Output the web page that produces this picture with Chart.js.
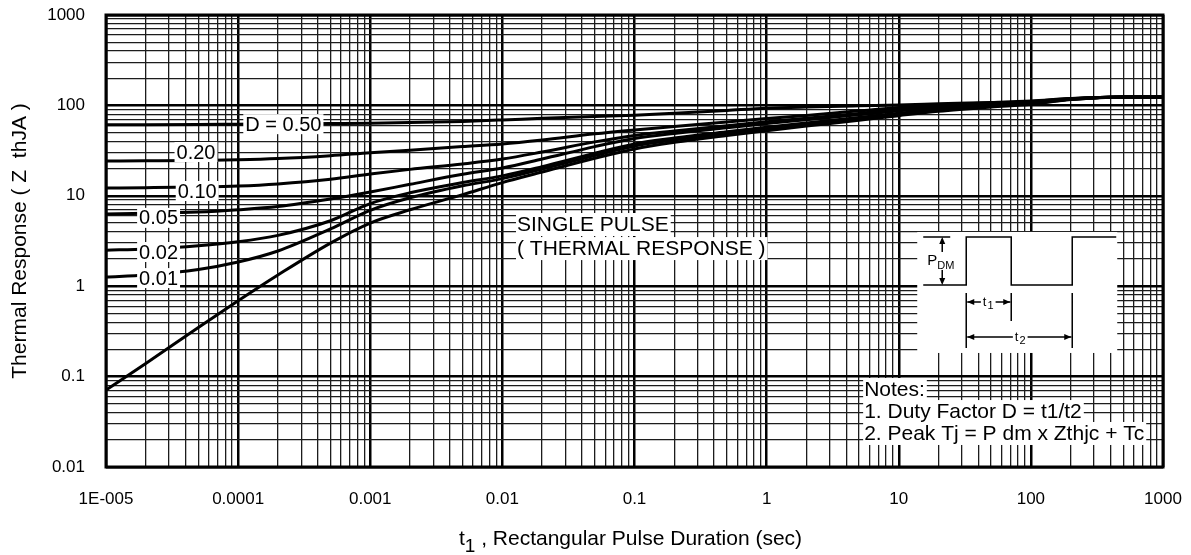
<!DOCTYPE html>
<html>
<head>
<meta charset="utf-8">
<script src="https://cdn.jsdelivr.net/npm/chart.js@4.4.1/dist/chart.umd.min.js"></script>
<style>
  html, body { margin: 0; padding: 0; background: #fff; }
  #wrap { width: 1191px; height: 555px; }
</style>
</head>
<body>
<div id="wrap"><canvas id="thermalChart"></canvas></div>
<script>
// Pulse duration t1 (sec)
const pulseTimes = [1e-5, 2e-5, 5e-5, 1e-4, 2e-4, 5e-4, 1e-3, 2e-3, 5e-3, 0.01, 0.02, 0.05, 0.1, 0.2, 0.5, 1, 2, 5, 10, 20, 50, 100, 200, 500, 1000];

// Z thJA per duty cycle
const zD050 = [61, 61.2, 61.6, 62, 62.4, 63, 63.5, 64.5, 66.5, 69, 72, 75.5, 78, 82, 88, 93, 96, 99, 101, 104, 108, 112, 119, 124, 124];
const zD020 = [24.3, 24.4, 24.6, 25, 25.8, 27.8, 30, 32, 35, 37.5, 41.5, 48.5, 53.5, 58.5, 65.5, 71.5, 77.5, 87, 95, 101, 107, 110.5, 119, 124, 124];
const zD010 = [12.2, 12.3, 12.5, 12.8, 13.5, 15.2, 17.4, 19.6, 22.5, 25.5, 30.5, 39.5, 46.5, 52, 59.5, 66, 72, 81.5, 90, 97, 104, 109, 118.5, 124, 124];
const zD005 = [6.3, 6.4, 6.6, 7.0, 7.6, 9.2, 11.0, 13.4, 17.3, 20.3, 25.5, 35, 43, 49, 56.5, 63, 69.5, 79, 87, 94, 102.5, 108, 118, 124, 124];
const zD002 = [2.5, 2.58, 2.8, 3.1, 3.65, 5.3, 8.2, 10.8, 14.0, 16.6, 21, 29.5, 37.5, 43.5, 51, 57.5, 64, 73.5, 82, 90, 100, 106, 117, 124, 124];
const zD001 = [1.26, 1.33, 1.53, 1.85, 2.45, 4.3, 6.9, 9.5, 12.9, 15.5, 19.8, 27.8, 35.5, 41.5, 49, 55.5, 62, 71.5, 80, 88.5, 98.5, 105, 116.5, 124, 124];
const zSingle = [0.071, 0.14, 0.35, 0.69, 1.33, 3.0, 5.0, 7.0, 10.3, 14.0, 18.3, 26, 33, 39, 46.5, 52.5, 59, 68.5, 77, 86, 96, 103, 116, 124, 124];

// Tick labels
const xTickLabels = ['1E-005', '0.0001', '0.001', '0.01', '0.1', '1', '10', '100', '1000'];
const yTickLabels = ['0.01', '0.1', '1', '10', '100', '1000'];

const FONT = '"Liberation Sans", Arial, Helvetica, sans-serif';

// curve labels, anchored on data coords (t, Z)
const curveLabels = [
    { text: 'D = 0.50', t: 2.2e-4, z: 62 },
    { text: '0.20', t: 4.8e-5, z: 30.5 },
    { text: '0.10', t: 4.9e-5, z: 11.3 },
    { text: '0.05', t: 2.5e-5, z: 5.7 },
    { text: '0.02', t: 2.5e-5, z: 2.39 },
    { text: '0.01', t: 2.5e-5, z: 1.23 }
];

const isDecade = v => Math.abs(Math.log10(v) - Math.round(Math.log10(v))) < 1e-9;

// grid positions: 1..9 x 10^n for every decade
function decadeTicks(minExp, maxExp) {
    const ticks = [];
    for (let e = minExp; e < maxExp; e++) {
        for (let m = 1; m < 10; m++) {
            ticks.push({ value: m * Math.pow(10, e) });
        }
    }
    ticks.push({ value: Math.pow(10, maxExp) });
    return ticks;
}

function makeSeries(values) {
    return pulseTimes.map((t, i) => ({ x: t, y: values[i] }));
}

function lineSet(label, values) {
    return {
        label: label,
        data: makeSeries(values),
        borderColor: '#000',
        borderWidth: 3,
        pointRadius: 0,
        cubicInterpolationMode: 'monotone',
        fill: false
    };
}

function arrowHead(ctx, x, y, dir) {
    const L = 7, W = 3;
    ctx.beginPath();
    ctx.moveTo(x, y);
    if (dir === 'up') { ctx.lineTo(x - W, y + L); ctx.lineTo(x + W, y + L); }
    if (dir === 'down') { ctx.lineTo(x - W, y - L); ctx.lineTo(x + W, y - L); }
    if (dir === 'left') { ctx.lineTo(x + L, y - W); ctx.lineTo(x + L, y + W); }
    if (dir === 'right') { ctx.lineTo(x - L, y - W); ctx.lineTo(x - L, y + W); }
    ctx.closePath();
    ctx.fill();
}

function boxedText(ctx, text, x, y) {
    // left aligned, alphabetic baseline, white box behind
    const w = ctx.measureText(text).width;
    ctx.fillStyle = '#fff';
    ctx.fillRect(x - 1, y - 18, w + 3, 23);
    ctx.fillStyle = '#000';
    ctx.fillText(text, x, y);
}

// inset pulse sketch
function drawInset(ctx, ox, oy) {
    ctx.save();
    ctx.fillStyle = '#fff';
    ctx.fillRect(ox, oy, 200, 121);
    ctx.strokeStyle = '#000';
    ctx.fillStyle = '#000';
    ctx.lineWidth = 1.5;
    const base = oy + 53, top = oy + 5;
    ctx.beginPath();
    ctx.moveTo(ox + 6, base);
    ctx.lineTo(ox + 49, base);
    ctx.lineTo(ox + 49, top);
    ctx.lineTo(ox + 94, top);
    ctx.lineTo(ox + 94, base);
    ctx.lineTo(ox + 155, base);
    ctx.lineTo(ox + 155, top);
    ctx.lineTo(ox + 199, top);
    ctx.moveTo(ox + 6, top);
    ctx.lineTo(ox + 33, top);
    // P_DM arrow
    ctx.moveTo(ox + 25, top + 2);
    ctx.lineTo(ox + 25, base - 2);
    // extension lines
    ctx.moveTo(ox + 49, oy + 61); ctx.lineTo(ox + 49, oy + 116);
    ctx.moveTo(ox + 94, oy + 61); ctx.lineTo(ox + 94, oy + 89);
    ctx.moveTo(ox + 155, oy + 61); ctx.lineTo(ox + 155, oy + 116);
    // dimension lines
    ctx.moveTo(ox + 50, oy + 70); ctx.lineTo(ox + 93, oy + 70);
    ctx.moveTo(ox + 50, oy + 105); ctx.lineTo(ox + 154, oy + 105);
    ctx.stroke();
    arrowHead(ctx, ox + 25, top, 'up');
    arrowHead(ctx, ox + 25, base, 'down');
    arrowHead(ctx, ox + 50, oy + 70, 'left');
    arrowHead(ctx, ox + 93, oy + 70, 'right');
    arrowHead(ctx, ox + 50, oy + 105, 'left');
    arrowHead(ctx, ox + 154, oy + 105, 'right');

    // P DM text
    ctx.fillStyle = '#fff';
    ctx.fillRect(ox + 9, oy + 20, 27, 18);
    ctx.fillStyle = '#000';
    ctx.textAlign = 'left';
    ctx.textBaseline = 'alphabetic';
    ctx.font = '15px ' + FONT;
    ctx.fillText('P', ox + 10, oy + 33);
    ctx.font = '11px ' + FONT;
    ctx.fillText('DM', ox + 20, oy + 37);

    // t1, t2
    const sub = (main, idx, cx, cy) => {
        ctx.font = '13px ' + FONT;
        const w1 = ctx.measureText(main).width;
        ctx.font = '11px ' + FONT;
        const w2 = ctx.measureText(idx).width;
        const x0 = cx - (w1 + w2 + 1) / 2;
        ctx.fillStyle = '#fff';
        ctx.fillRect(x0 - 2, cy - 7, w1 + w2 + 5, 14);
        ctx.fillStyle = '#000';
        ctx.font = '13px ' + FONT;
        ctx.fillText(main, x0, cy + 4);
        ctx.font = '11px ' + FONT;
        ctx.fillText(idx, x0 + w1 + 1, cy + 7);
    };
    sub('t', '1', ox + 71, oy + 70);
    sub('t', '2', ox + 103, oy + 105);
    ctx.restore();
}

const annotationPlugin = {
    id: 'thermalAnnotations',
    afterDatasetsDraw(chart) {
        const { ctx, chartArea: area, scales } = chart;
        const xs = scales.x, ys = scales.y;
        ctx.save();

        // curve labels
        ctx.font = '20px ' + FONT;
        ctx.textAlign = 'center';
        ctx.textBaseline = 'middle';
        curveLabels.forEach(l => {
            const px = xs.getPixelForValue(l.t);
            const py = ys.getPixelForValue(l.z);
            const w = ctx.measureText(l.text).width + 4;
            ctx.fillStyle = '#fff';
            ctx.fillRect(px - w / 2, py - 10, w, 20);
            ctx.fillStyle = '#000';
            ctx.fillText(l.text, px, py + 1);
        });

        // single pulse text
        ctx.font = '21px ' + FONT;
        ctx.textAlign = 'left';
        ctx.textBaseline = 'alphabetic';
        const sx = xs.getPixelForValue(0.0129);
        boxedText(ctx, 'SINGLE PULSE', sx, ys.getPixelForValue(4.08));
        boxedText(ctx, '( THERMAL RESPONSE )', sx, ys.getPixelForValue(2.21));

        // pulse sketch
        drawInset(ctx, xs.getPixelForValue(13.8), ys.getPixelForValue(3.98));

        // notes
        ctx.font = '21px ' + FONT;
        ctx.textAlign = 'left';
        ctx.textBaseline = 'alphabetic';
        const nx = xs.getPixelForValue(5.47);
        boxedText(ctx, 'Notes:', nx, ys.getPixelForValue(0.061));
        boxedText(ctx, '1. Duty Factor D = t1/t2', nx, ys.getPixelForValue(0.0348));
        boxedText(ctx, '2. Peak Tj = P dm x Zthjc + Tc', nx, ys.getPixelForValue(0.0199));

        // frame
        ctx.strokeStyle = '#000';
        ctx.lineWidth = 3;
        ctx.strokeRect(area.left, area.top, area.right - area.left, area.bottom - area.top);

        // x axis title with subscript
        ctx.fillStyle = '#000';
        const main = ' , Rectangular Pulse Duration (sec)';
        ctx.font = '21px ' + FONT;
        const wt = ctx.measureText('t').width;
        const wm = ctx.measureText(main).width;
        ctx.font = '19px ' + FONT;
        const ws = ctx.measureText('1').width;
        const total = wt + ws + wm;
        const tx = (area.left + area.right) / 2 - total / 2 - 4;
        const ty = 545;
        ctx.font = '21px ' + FONT;
        ctx.fillText('t', tx, ty);
        ctx.font = '19px ' + FONT;
        ctx.fillText('1', tx + wt, ty + 7);
        ctx.font = '21px ' + FONT;
        ctx.fillText(main, tx + wt + ws, ty);

        ctx.restore();
    }
};

const gridColor = ctx => (ctx.tick && isDecade(ctx.tick.value)) ? '#000' : '#1c1c1c';
const gridWidth = ctx => (ctx.tick && isDecade(ctx.tick.value)) ? 2.5 : 1.3;

const config = {
    type: 'line',
    data: {
        datasets: [
            lineSet('D = 0.50', zD050),
            lineSet('D = 0.20', zD020),
            lineSet('D = 0.10', zD010),
            lineSet('D = 0.05', zD005),
            lineSet('D = 0.02', zD002),
            lineSet('D = 0.01', zD001),
            lineSet('Single pulse', zSingle)
        ]
    },
    options: {
        responsive: true,
        maintainAspectRatio: false,
        animation: false,
        layout: {
            padding: { left: 0, right: 28, top: 15, bottom: 0 }
        },
        scales: {
            x: {
                type: 'logarithmic',
                min: 1e-5,
                max: 1000,
                afterBuildTicks: scale => { scale.ticks = decadeTicks(-5, 3); },
                afterFit: scale => { scale.height = 88; },
                border: { display: false },
                grid: {
                    color: gridColor,
                    lineWidth: gridWidth,
                    drawTicks: true,
                    tickLength: 22,
                    tickColor: 'rgba(0,0,0,0)'
                },
                ticks: {
                    autoSkip: false,
                    maxRotation: 0,
                    padding: 0,
                    color: '#000',
                    font: { family: FONT, size: 17 },
                    callback: value => isDecade(value) ? xTickLabels[Math.round(Math.log10(value)) + 5] : ''
                }
            },
            y: {
                type: 'logarithmic',
                min: 0.01,
                max: 1000,
                afterBuildTicks: scale => { scale.ticks = decadeTicks(-2, 3); },
                afterFit: scale => { scale.width = 106; },
                border: { display: false },
                grid: {
                    color: gridColor,
                    lineWidth: gridWidth,
                    drawTicks: true,
                    tickLength: 21,
                    tickColor: 'rgba(0,0,0,0)'
                },
                ticks: {
                    autoSkip: false,
                    padding: 0,
                    color: '#000',
                    font: { family: FONT, size: 17 },
                    callback: value => isDecade(value) ? yTickLabels[Math.round(Math.log10(value)) + 2] : ''
                },
                title: {
                    display: true,
                    text: 'Thermal Response ( Z  thJA )',
                    color: '#000',
                    font: { family: FONT, size: 21 },
                    padding: { top: 8, bottom: 0 }
                }
            }
        },
        plugins: {
            legend: { display: false },
            tooltip: { enabled: false }
        }
    },
    plugins: [annotationPlugin]
};

const thermalChart = new Chart(document.getElementById('thermalChart'), config);
</script>
</body>
</html>
